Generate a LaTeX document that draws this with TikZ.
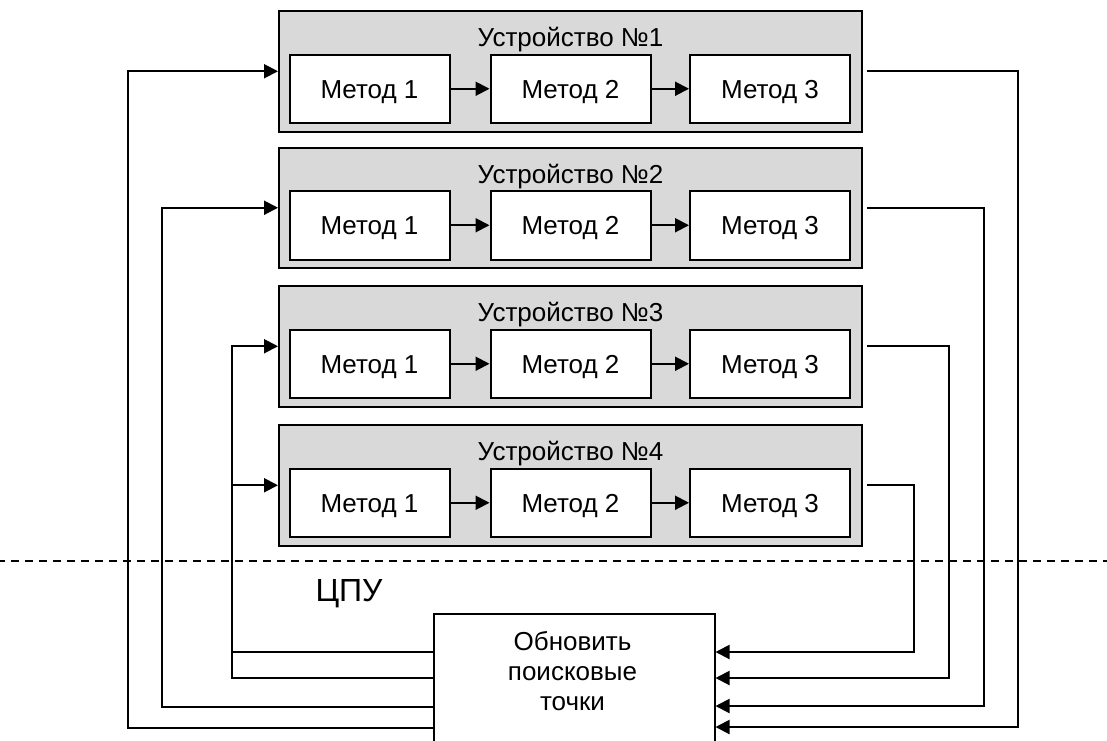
\documentclass[tikz,border=0pt]{standalone}
\usepackage{fontspec}
\setmainfont{Liberation Sans}
\usetikzlibrary{arrows.meta}
\definecolor{devgray}{RGB}{217,217,217}
\begin{document}
\begin{tikzpicture}[x=1pt,y=-1pt,
  conn/.style={line width=2pt},
  tip/.style={-{Triangle[length=14pt,width=14pt]}},
  device/.style={draw, line width=2pt, fill=devgray, minimum width=583pt, minimum height=120.5pt, inner sep=0pt},
  method/.style={draw, line width=2pt, fill=white, minimum width=160pt, minimum height=68.5pt, inner sep=0pt,
    font=\fontsize{26}{30}\selectfont, text height=18.6pt, text depth=0pt},
  devtitle/.style={font=\fontsize{26}{30}\selectfont, anchor=base, inner sep=0pt},
  cpubox/.style={draw, line width=2pt, fill=white, minimum width=281pt, minimum height=160pt, anchor=north west, inner sep=0pt}]
\useasboundingbox (0,0) rectangle (1107,740);
\clip (0,0) rectangle (1107,740);
\fill[white] (0,0) rectangle (1107,740);

% dashed separator
\coordinate (dl) at (0,561);
\coordinate (dr) at (1107,561);
\draw[line width=2pt, dash pattern=on 8pt off 6pt, dash phase=3pt] (dl) -- (dr);

% devices
\foreach \i/\t in {1/11, 2/147.5, 3/286, 4/425} {
  \node[device] (d\i) at (570.5, \t+60.25) {};
  \node[devtitle] (t\i) at (570.5, \t+35.7) {Устройство №\i};
  \node[method] (m\i-1) at (369.5, \t+77.75) {Метод 1};
  \node[method] (m\i-2) at (570.5, \t+77.75) {Метод 2};
  \node[method] (m\i-3) at (770, \t+77.75) {Метод 3};
  \draw[conn,tip] (m\i-1) -- (m\i-2);
  \draw[conn,tip] (m\i-2) -- (m\i-3);
}

% CPU
\node[font=\fontsize{32}{36}\selectfont, anchor=base, inner sep=0pt] (cpulabel) at (349,601) {ЦПУ};
\node[cpubox] (cpu) at (432.5,613) {};
\node[font=\fontsize{26}{30}\selectfont, align=center, anchor=north, inner sep=0pt] (cputext) at (572.5,631) {Обновить\\поисковые\\точки};

% outputs (device -> CPU)
\foreach \i/\xr/\yc in {1/1018/727, 2/984/706, 3/949/678, 4/913.5/652} {
  \draw[conn,tip] ([xshift=4pt]d\i.east) -| (\xr,\yc) -- (cpu.east |- 0,\yc);
}

% inputs (CPU -> device)
\foreach \i/\xl/\yc in {1/128/728, 2/161.5/706.5, 3/232/678, 4/232/652} {
  \draw[conn,tip] (cpu.west |- 0,\yc) -| (\xl,0 |- d\i.west) -- (d\i.west);
}
\end{tikzpicture}
\end{document}
